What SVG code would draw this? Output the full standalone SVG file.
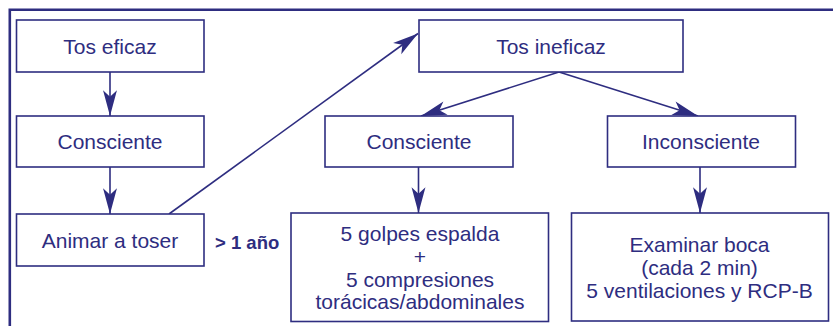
<svg xmlns="http://www.w3.org/2000/svg" width="833" height="326" viewBox="0 0 833 326">
<defs>
<style>
.box{fill:#ffffff;stroke:#2e2d80;stroke-width:1.6}
.t{font-family:"Liberation Sans",Arial,Helvetica,sans-serif;font-size:21px;fill:#2e2d80;text-anchor:middle}
.b{font-family:"Liberation Sans",Arial,Helvetica,sans-serif;font-size:18.5px;font-weight:bold;fill:#2e2d80}
.c{fill:none;stroke:#2e2d80;stroke-width:1.6}
</style>
<marker id="ah" markerUnits="userSpaceOnUse" markerWidth="30" markerHeight="20" viewBox="-26 -8 28 16" refX="0" refY="0" orient="auto">
<path d="M0,0 L-24,-6.5 L-18,0 L-24,6.5 Z" fill="#2e2d80"/>
</marker>
</defs>
<rect width="833" height="326" fill="#ffffff"/>
<path d="M9.8,340 V9.8 H845" fill="none" stroke="#2e2d80" stroke-width="2.6"/>
<g id="connectors">
<line class="c" x1="110" y1="72" x2="110" y2="116" marker-end="url(#ah)"/>
<line class="c" x1="110" y1="167" x2="110" y2="214" marker-end="url(#ah)"/>
<line class="c" x1="169" y1="214" x2="418" y2="33.5" marker-end="url(#ah)"/>
<line class="c" x1="559" y1="72" x2="421" y2="116" marker-end="url(#ah)"/>
<line class="c" x1="559" y1="72" x2="698" y2="116" marker-end="url(#ah)"/>
<line class="c" x1="418.5" y1="167" x2="418.5" y2="213" marker-end="url(#ah)"/>
<line class="c" x1="700" y1="167" x2="700" y2="213" marker-end="url(#ah)"/>
</g>
<g id="tos-eficaz">
<rect class="box" x="16.5" y="20" width="187.5" height="52"/>
<text class="t" x="110" y="53.5">Tos eficaz</text>
</g>
<g id="consciente-1">
<rect class="box" x="16.5" y="116" width="187.5" height="51"/>
<text class="t" x="110" y="149">Consciente</text>
</g>
<g id="animar">
<rect class="box" x="16.5" y="214" width="187.5" height="52"/>
<text class="t" x="110" y="247.5">Animar a toser</text>
</g>
<g id="edad">
<text class="b" x="215" y="248.5">&gt; 1 año</text>
</g>
<g id="tos-ineficaz">
<rect class="box" x="419" y="20" width="264" height="52"/>
<text class="t" x="551" y="53.5">Tos ineficaz</text>
</g>
<g id="consciente-2">
<rect class="box" x="325" y="116" width="188" height="51"/>
<text class="t" x="419" y="149">Consciente</text>
</g>
<g id="inconsciente">
<rect class="box" x="607.5" y="116" width="188" height="51"/>
<text class="t" x="701" y="149">Inconsciente</text>
</g>
<g id="golpes">
<rect class="box" x="291" y="213" width="257.5" height="108.5"/>
<text class="t" x="420" y="241">5 golpes espalda</text>
<text class="t" x="420" y="264">+</text>
<text class="t" x="420" y="286.5">5 compresiones</text>
<text class="t" x="420" y="308.5">torácicas/abdominales</text>
</g>
<g id="examinar">
<rect class="box" x="571.5" y="213" width="257" height="108"/>
<text class="t" x="699.5" y="251.5">Examinar boca</text>
<text class="t" x="699.5" y="274.5">(cada 2 min)</text>
<text class="t" x="699.5" y="297.5">5 ventilaciones y RCP-B</text>
</g>
</svg>
